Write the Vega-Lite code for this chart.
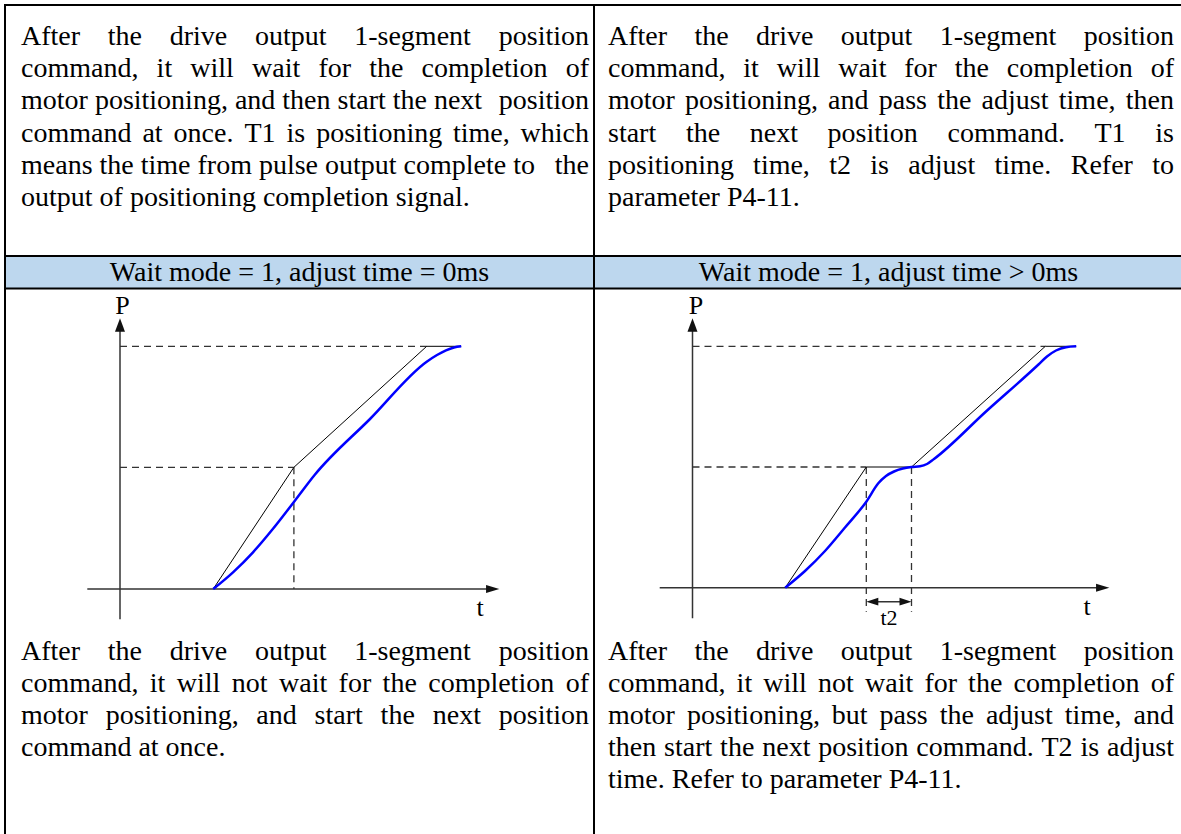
{
  "$schema": "https://vega.github.io/schema/vega-lite/v6.json",
  "width": 1181,
  "height": 834,
  "autosize": {"type": "none"},
  "padding": 0,
  "background": "white",
  "config": {"view": {"stroke": null}},
  "datasets": {
    "band": [
      {"x": 5, "x2": 594, "y": 256, "y2": 288.5},
      {"x": 594, "x2": 1181, "y": 256, "y2": 288.5}
    ],
    "frame": [
      {"x": 4, "y": 5, "x2": 1181, "y2": 5},
      {"x": 4, "y": 256, "x2": 1181, "y2": 256},
      {"x": 4, "y": 288.5, "x2": 1181, "y2": 288.5},
      {"x": 5, "y": 4, "x2": 5, "y2": 834},
      {"x": 594, "y": 4, "x2": 594, "y2": 834}
    ],
    "axes": [
      {"x": 120, "y": 330, "x2": 120, "y2": 619.3},
      {"x": 87.3, "y": 589, "x2": 488, "y2": 589},
      {"x": 692.5, "y": 330, "x2": 692.5, "y2": 618.3},
      {"x": 659.7, "y": 587.7, "x2": 1098, "y2": 587.7},
      {"x": 870, "y": 601.7, "x2": 908, "y2": 601.7}
    ],
    "dash": [
      {"x": 120, "y": 346.3, "x2": 426.7, "y2": 346.3},
      {"x": 120, "y": 467.3, "x2": 293.9, "y2": 467.3},
      {"x": 293.9, "y": 467.3, "x2": 293.9, "y2": 589},
      {"x": 692.5, "y": 346.3, "x2": 1045.3, "y2": 346.3},
      {"x": 692.5, "y": 467, "x2": 866.3, "y2": 467},
      {"x": 866.3, "y": 467, "x2": 866.3, "y2": 611.7},
      {"x": 911.5, "y": 467, "x2": 911.5, "y2": 611.7}
    ],
    "heads": [
      {"x": 120, "y": 325, "dir": "up"},
      {"x": 692.5, "y": 325, "dir": "up"},
      {"x": 492.7, "y": 589, "dir": "right"},
      {"x": 1102.7, "y": 587.7, "dir": "right"},
      {"x": 905.5, "y": 601.7, "dir": "tr"},
      {"x": 872.3, "y": 601.7, "dir": "tl"}
    ],
    "cmd": [
      {"s": "L", "x": 213.2, "y": 589},
      {"s": "L", "x": 293.9, "y": 467.3},
      {"s": "L", "x": 426.7, "y": 346.3},
      {"s": "L", "x": 461.2, "y": 346.3},
      {"s": "R", "x": 785.2, "y": 587.7},
      {"s": "R", "x": 866.3, "y": 467},
      {"s": "R", "x": 911.5, "y": 467},
      {"s": "R", "x": 1045.3, "y": 346.3},
      {"s": "R", "x": 1076.2, "y": 346.3}
    ],
    "motor": [
      {"s": "L", "x": 213.2, "y": 589},
      {"s": "L", "x": 233, "y": 572.3},
      {"s": "L", "x": 253, "y": 552.3},
      {"s": "L", "x": 273, "y": 528.8},
      {"s": "L", "x": 293.9, "y": 502},
      {"s": "L", "x": 314.6, "y": 475},
      {"s": "L", "x": 370, "y": 419},
      {"s": "L", "x": 426.7, "y": 361.7},
      {"s": "L", "x": 437, "y": 355},
      {"s": "L", "x": 446, "y": 350.3},
      {"s": "L", "x": 454, "y": 347.5},
      {"s": "L", "x": 461.2, "y": 346.3},
      {"s": "R", "x": 785.2, "y": 587.7},
      {"s": "R", "x": 805, "y": 571},
      {"s": "R", "x": 825, "y": 551},
      {"s": "R", "x": 845, "y": 527.5},
      {"s": "R", "x": 866.3, "y": 501.7},
      {"s": "R", "x": 878.3, "y": 483.3},
      {"s": "R", "x": 886, "y": 476},
      {"s": "R", "x": 894, "y": 471.5},
      {"s": "R", "x": 902.8, "y": 468.5},
      {"s": "R", "x": 911.5, "y": 467},
      {"s": "R", "x": 920, "y": 466.3},
      {"s": "R", "x": 927, "y": 464},
      {"s": "R", "x": 934, "y": 459},
      {"s": "R", "x": 986, "y": 411.5},
      {"s": "R", "x": 1038.5, "y": 364.5},
      {"s": "R", "x": 1047, "y": 356.5},
      {"s": "R", "x": 1056, "y": 350.5},
      {"s": "R", "x": 1066, "y": 347.2},
      {"s": "R", "x": 1076.2, "y": 346.3}
    ],
    "labels": [
      {"x": 299.5, "y": 281, "w": "Wait mode = 1, adjust time = 0ms", "k": "head"},
      {"x": 888.5, "y": 281, "w": "Wait mode = 1, adjust time > 0ms", "k": "head"},
      {"x": 122.5, "y": 314, "w": "P", "k": "axis"},
      {"x": 696, "y": 313.5, "w": "P", "k": "axis"},
      {"x": 480, "y": 616, "w": "t", "k": "axis"},
      {"x": 1087, "y": 615, "w": "t", "k": "axis"},
      {"x": 889, "y": 625, "w": "t2", "k": "small"}
    ],
    "body": [
      {"x": 21, "y": 45, "w": "After", "e": false},
      {"x": 107.8, "y": 45, "w": "the", "e": false},
      {"x": 169.7, "y": 45, "w": "drive", "e": false},
      {"x": 254.9, "y": 45, "w": "output", "e": false},
      {"x": 354.2, "y": 45, "w": "1-segment", "e": false},
      {"x": 589, "y": 45, "w": "position", "e": true},
      {"x": 21, "y": 77.2, "w": "command,", "e": false},
      {"x": 156.6, "y": 77.2, "w": "it", "e": false},
      {"x": 190.3, "y": 77.2, "w": "will", "e": false},
      {"x": 252, "y": 77.2, "w": "wait", "e": false},
      {"x": 318.4, "y": 77.2, "w": "for", "e": false},
      {"x": 369.2, "y": 77.2, "w": "the", "e": false},
      {"x": 421.5, "y": 77.2, "w": "completion", "e": false},
      {"x": 589, "y": 77.2, "w": "of", "e": true},
      {"x": 21, "y": 109.4, "w": "motor positioning, and then start the next", "e": false},
      {"x": 589, "y": 109.4, "w": "position", "e": true},
      {"x": 21, "y": 141.6, "w": "command", "e": false},
      {"x": 142.4, "y": 141.6, "w": "at", "e": false},
      {"x": 173.6, "y": 141.6, "w": "once.", "e": false},
      {"x": 244.4, "y": 141.6, "w": "T1", "e": false},
      {"x": 286.5, "y": 141.6, "w": "is", "e": false},
      {"x": 316.2, "y": 141.6, "w": "positioning", "e": false},
      {"x": 453, "y": 141.6, "w": "time,", "e": false},
      {"x": 589, "y": 141.6, "w": "which", "e": true},
      {"x": 21, "y": 173.8, "w": "means the time from pulse output complete to", "e": false},
      {"x": 589, "y": 173.8, "w": "the", "e": true},
      {"x": 21, "y": 206, "w": "output of positioning completion signal.", "e": false},

      {"x": 608, "y": 45, "w": "After", "e": false},
      {"x": 694.4, "y": 45, "w": "the", "e": false},
      {"x": 755.9, "y": 45, "w": "drive", "e": false},
      {"x": 840.8, "y": 45, "w": "output", "e": false},
      {"x": 939.7, "y": 45, "w": "1-segment", "e": false},
      {"x": 1174, "y": 45, "w": "position", "e": true},
      {"x": 608, "y": 77.2, "w": "command,", "e": false},
      {"x": 743.3, "y": 77.2, "w": "it", "e": false},
      {"x": 776.7, "y": 77.2, "w": "will", "e": false},
      {"x": 838.2, "y": 77.2, "w": "wait", "e": false},
      {"x": 904.3, "y": 77.2, "w": "for", "e": false},
      {"x": 954.7, "y": 77.2, "w": "the", "e": false},
      {"x": 1006.8, "y": 77.2, "w": "completion", "e": false},
      {"x": 1174, "y": 77.2, "w": "of", "e": true},
      {"x": 608, "y": 109.4, "w": "motor", "e": false},
      {"x": 685.1, "y": 109.4, "w": "positioning,", "e": false},
      {"x": 828.1, "y": 109.4, "w": "and", "e": false},
      {"x": 878.8, "y": 109.4, "w": "pass", "e": false},
      {"x": 937.2, "y": 109.4, "w": "the", "e": false},
      {"x": 981.6, "y": 109.4, "w": "adjust", "e": false},
      {"x": 1058.8, "y": 109.4, "w": "time,", "e": false},
      {"x": 1174, "y": 109.4, "w": "then", "e": true},
      {"x": 608, "y": 141.6, "w": "start", "e": false},
      {"x": 685.9, "y": 141.6, "w": "the", "e": false},
      {"x": 749.7, "y": 141.6, "w": "next", "e": false},
      {"x": 827.6, "y": 141.6, "w": "position", "e": false},
      {"x": 947.5, "y": 141.6, "w": "command.", "e": false},
      {"x": 1094.5, "y": 141.6, "w": "T1", "e": false},
      {"x": 1174, "y": 141.6, "w": "is", "e": true},
      {"x": 608, "y": 173.8, "w": "positioning", "e": false},
      {"x": 753.1, "y": 173.8, "w": "time,", "e": false},
      {"x": 829.2, "y": 173.8, "w": "t2", "e": false},
      {"x": 870.3, "y": 173.8, "w": "is", "e": false},
      {"x": 908.3, "y": 173.8, "w": "adjust", "e": false},
      {"x": 994.5, "y": 173.8, "w": "time.", "e": false},
      {"x": 1070.7, "y": 173.8, "w": "Refer", "e": false},
      {"x": 1174, "y": 173.8, "w": "to", "e": true},
      {"x": 608, "y": 206, "w": "parameter P4-11.", "e": false},

      {"x": 21, "y": 659.5, "w": "After", "e": false},
      {"x": 107.8, "y": 659.5, "w": "the", "e": false},
      {"x": 169.7, "y": 659.5, "w": "drive", "e": false},
      {"x": 254.9, "y": 659.5, "w": "output", "e": false},
      {"x": 354.2, "y": 659.5, "w": "1-segment", "e": false},
      {"x": 589, "y": 659.5, "w": "position", "e": true},
      {"x": 21, "y": 691.7, "w": "command,", "e": false},
      {"x": 149.8, "y": 691.7, "w": "it", "e": false},
      {"x": 176.8, "y": 691.7, "w": "will", "e": false},
      {"x": 231.8, "y": 691.7, "w": "not", "e": false},
      {"x": 279, "y": 691.7, "w": "wait", "e": false},
      {"x": 338.6, "y": 691.7, "w": "for", "e": false},
      {"x": 382.6, "y": 691.7, "w": "the", "e": false},
      {"x": 428.2, "y": 691.7, "w": "completion", "e": false},
      {"x": 589, "y": 691.7, "w": "of", "e": true},
      {"x": 21, "y": 723.9, "w": "motor", "e": false},
      {"x": 105.7, "y": 723.9, "w": "positioning,", "e": false},
      {"x": 256.3, "y": 723.9, "w": "and", "e": false},
      {"x": 314.6, "y": 723.9, "w": "start", "e": false},
      {"x": 380.6, "y": 723.9, "w": "the", "e": false},
      {"x": 432.7, "y": 723.9, "w": "next", "e": false},
      {"x": 589, "y": 723.9, "w": "position", "e": true},
      {"x": 21, "y": 756.1, "w": "command at once.", "e": false},

      {"x": 608, "y": 659.5, "w": "After", "e": false},
      {"x": 694.4, "y": 659.5, "w": "the", "e": false},
      {"x": 755.9, "y": 659.5, "w": "drive", "e": false},
      {"x": 840.8, "y": 659.5, "w": "output", "e": false},
      {"x": 939.7, "y": 659.5, "w": "1-segment", "e": false},
      {"x": 1174, "y": 659.5, "w": "position", "e": true},
      {"x": 608, "y": 691.7, "w": "command,", "e": false},
      {"x": 736.6, "y": 691.7, "w": "it", "e": false},
      {"x": 763.3, "y": 691.7, "w": "will", "e": false},
      {"x": 818, "y": 691.7, "w": "not", "e": false},
      {"x": 865, "y": 691.7, "w": "wait", "e": false},
      {"x": 924.4, "y": 691.7, "w": "for", "e": false},
      {"x": 968.1, "y": 691.7, "w": "the", "e": false},
      {"x": 1013.5, "y": 691.7, "w": "completion", "e": false},
      {"x": 1174, "y": 691.7, "w": "of", "e": true},
      {"x": 608, "y": 723.9, "w": "motor", "e": false},
      {"x": 686.9, "y": 723.9, "w": "positioning,", "e": false},
      {"x": 831.7, "y": 723.9, "w": "but", "e": false},
      {"x": 879.5, "y": 723.9, "w": "pass", "e": false},
      {"x": 939.7, "y": 723.9, "w": "the", "e": false},
      {"x": 985.9, "y": 723.9, "w": "adjust", "e": false},
      {"x": 1064.8, "y": 723.9, "w": "time,", "e": false},
      {"x": 1174, "y": 723.9, "w": "and", "e": true},
      {"x": 608, "y": 756.1, "w": "then", "e": false},
      {"x": 664.1, "y": 756.1, "w": "start", "e": false},
      {"x": 720.1, "y": 756.1, "w": "the", "e": false},
      {"x": 762.2, "y": 756.1, "w": "next", "e": false},
      {"x": 818.2, "y": 756.1, "w": "position", "e": false},
      {"x": 916.3, "y": 756.1, "w": "command.", "e": false},
      {"x": 1041.5, "y": 756.1, "w": "T2", "e": false},
      {"x": 1080.5, "y": 756.1, "w": "is", "e": false},
      {"x": 1174, "y": 756.1, "w": "adjust", "e": true},
      {"x": 608, "y": 788.3, "w": "time. Refer to parameter P4-11.", "e": false}
    ]
  },
  "encoding": {
    "x": {"field": "x", "type": "quantitative", "scale": {"domain": [0, 1181], "nice": false, "zero": false}, "axis": null},
    "y": {"field": "y", "type": "quantitative", "scale": {"domain": [0, 834], "reverse": true, "nice": false, "zero": false}, "axis": null}
  },
  "layer": [
    {
      "data": {"name": "band"},
      "mark": {"type": "rect", "color": "#BDD7EE"},
      "encoding": {"x2": {"field": "x2"}, "y2": {"field": "y2"}}
    },
    {
      "data": {"name": "frame"},
      "mark": {"type": "rule", "color": "#000000", "strokeWidth": 2},
      "encoding": {"x2": {"field": "x2"}, "y2": {"field": "y2"}}
    },
    {
      "data": {"name": "axes"},
      "mark": {"type": "rule", "color": "#333333", "strokeWidth": 1.5},
      "encoding": {"x2": {"field": "x2"}, "y2": {"field": "y2"}}
    },
    {
      "data": {"name": "dash"},
      "mark": {"type": "rule", "color": "#333333", "strokeWidth": 1.3, "strokeDash": [7, 5]},
      "encoding": {"x2": {"field": "x2"}, "y2": {"field": "y2"}}
    },
    {
      "data": {"name": "heads"},
      "transform": [{"filter": "datum.dir == 'up'"}],
      "mark": {"type": "point", "shape": "M0,-1L0.75,1L-0.75,1Z", "size": 177, "filled": true, "color": "#111111", "opacity": 1, "strokeWidth": 0}
    },
    {
      "data": {"name": "heads"},
      "transform": [{"filter": "datum.dir == 'right'"}],
      "mark": {"type": "point", "shape": "M1,0L-1,-0.6L-1,0.6Z", "size": 177, "filled": true, "color": "#111111", "opacity": 1, "strokeWidth": 0}
    },
    {
      "data": {"name": "heads"},
      "transform": [{"filter": "datum.dir == 'tr'"}],
      "mark": {"type": "point", "shape": "M1,0L-1,-0.65L-1,0.65Z", "size": 144, "filled": true, "color": "#111111", "opacity": 1, "strokeWidth": 0}
    },
    {
      "data": {"name": "heads"},
      "transform": [{"filter": "datum.dir == 'tl'"}],
      "mark": {"type": "point", "shape": "M-1,0L1,-0.65L1,0.65Z", "size": 144, "filled": true, "color": "#111111", "opacity": 1, "strokeWidth": 0}
    },
    {
      "data": {"name": "cmd"},
      "mark": {"type": "line", "color": "#000000", "strokeWidth": 1},
      "encoding": {"detail": {"field": "s"}}
    },
    {
      "data": {"name": "motor"},
      "mark": {"type": "line", "color": "#0000FF", "strokeWidth": 2.5, "interpolate": "monotone"},
      "encoding": {"detail": {"field": "s"}}
    },
    {
      "data": {"name": "body"},
      "transform": [{"filter": "!datum.e"}],
      "mark": {"type": "text", "align": "left", "baseline": "alphabetic", "font": "Liberation Serif", "fontSize": 28, "color": "#000000"},
      "encoding": {"text": {"field": "w"}}
    },
    {
      "data": {"name": "body"},
      "transform": [{"filter": "datum.e"}],
      "mark": {"type": "text", "align": "right", "baseline": "alphabetic", "font": "Liberation Serif", "fontSize": 28, "color": "#000000"},
      "encoding": {"text": {"field": "w"}}
    },
    {
      "data": {"name": "labels"},
      "transform": [{"filter": "datum.k == 'head'"}],
      "mark": {"type": "text", "align": "center", "baseline": "alphabetic", "font": "Liberation Serif", "fontSize": 28, "color": "#000000"},
      "encoding": {"text": {"field": "w"}}
    },
    {
      "data": {"name": "labels"},
      "transform": [{"filter": "datum.k == 'axis'"}],
      "mark": {"type": "text", "align": "center", "baseline": "alphabetic", "font": "Liberation Serif", "fontSize": 26, "color": "#000000"},
      "encoding": {"text": {"field": "w"}}
    },
    {
      "data": {"name": "labels"},
      "transform": [{"filter": "datum.k == 'small'"}],
      "mark": {"type": "text", "align": "center", "baseline": "alphabetic", "font": "Liberation Serif", "fontSize": 22, "color": "#000000"},
      "encoding": {"text": {"field": "w"}}
    }
  ]
}
